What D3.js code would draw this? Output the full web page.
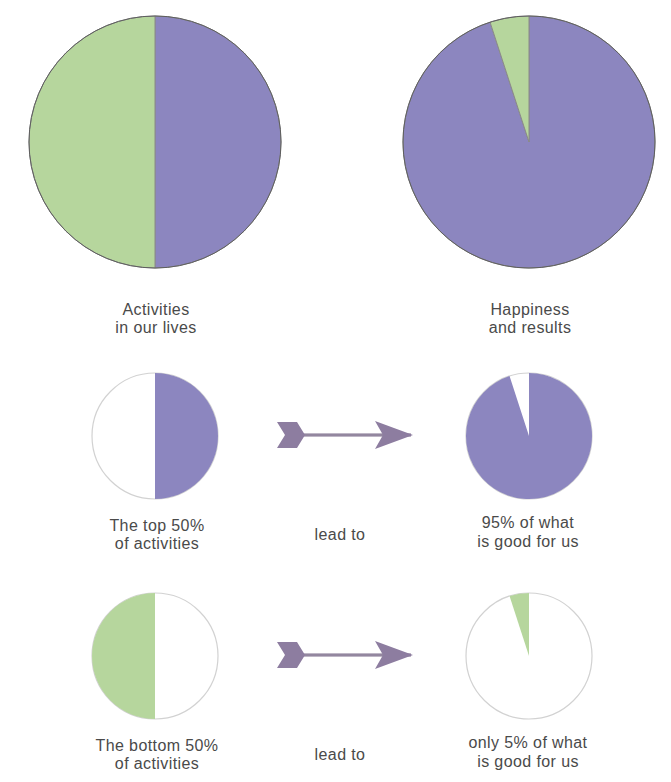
<!doctype html>
<html>
<head>
<meta charset="utf-8" />
<title>top 50% of activities</title>
<script src="https://cdn.jsdelivr.net/npm/d3@7"></script>
<style>
  body { margin: 0; background: #fff; }
  text { font-family: "Liberation Sans", Arial, sans-serif; font-size: 16px; letter-spacing: 0.4px; fill: #4a4a4a; }
</style>
</head>
<body>
<svg id="chart" width="671" height="782"></svg>
<script>
// share of activities vs. share of results, [top half, bottom half]
var groups = ['top', 'bottom'];
var activityShare = [50, 50];
var resultShare = [95, 5];

var topCaptions = [['Activities', 'in our lives'], ['Happiness', 'and results']];
var rowCaptions = [
    [['The top 50%', 'of activities'], ['lead to'], ['95% of what', 'is good for us']],
    [['The bottom 50%', 'of activities'], ['lead to'], ['only 5% of what', 'is good for us']]
];

var svg = d3.select('#chart');
var color = d3.scaleOrdinal().domain(groups).range(['#8c86bf', '#b6d69d']);

var pie = d3.pie().sort(null).value(function(d) { return d.value; });

function slices(values) {
    return pie(values.map(function(v, i) { return {key: groups[i], value: v}; }));
}

// big pies on top
function bigPie(cx, cy, values) {
    var arc = d3.arc().innerRadius(0).outerRadius(126);
    var g = svg.append('g').attr('transform', 'translate(' + cx + ',' + cy + ')');
    g.selectAll('path').data(slices(values)).enter().append('path')
        .attr('d', arc)
        .attr('fill', function(d) { return color(d.data.key); })
        .attr('stroke', '#8a8a8a')
        .attr('stroke-width', 1);
    g.append('circle').attr('r', 126).attr('fill', 'none').attr('stroke', '#5f5f5f').attr('stroke-width', 1);
}

// small pies: only one group coloured, other left white
function smallPie(cx, cy, values, keep) {
    var arc = d3.arc().innerRadius(0).outerRadius(63);
    var g = svg.append('g').attr('transform', 'translate(' + cx + ',' + cy + ')');
    g.append('circle').attr('r', 63).attr('fill', '#fff').attr('stroke', '#d2d2d2').attr('stroke-width', 1.2);
    g.selectAll('path').data(slices(values).filter(function(d) { return d.data.key === keep; }))
        .enter().append('path')
        .attr('d', arc)
        .attr('fill', function(d) { return color(d.data.key); });
}

function arrow(x, y) {
    var g = svg.append('g').attr('transform', 'translate(' + x + ',' + y + ')').attr('fill', '#8d7da0');
    g.append('rect').attr('x', 24).attr('y', -1.6).attr('width', 110).attr('height', 3.2).attr('fill', '#93879f');
    // tail feathers
    g.append('path').attr('d', 'M0,-13 L20,-13 L28,0 L20,13 L0,13 L8,0 Z');
    // head
    g.append('path').attr('d', 'M98,-14 L136,0 L98,14 L106,0 Z');
}

function caption(x, y, lines, gap) {
    var t = svg.append('text').attr('x', x).attr('y', y).attr('text-anchor', 'middle');
    lines.forEach(function(l, i) {
        t.append('tspan').attr('x', x).attr('dy', i === 0 ? 0 : (gap || 18)).text(l);
    });
}

bigPie(155, 142, activityShare);
bigPie(529, 142, resultShare);
caption(156, 315, topCaptions[0]);
caption(530, 315, topCaptions[1]);

var rowY = [436, 656];
rowY.forEach(function(cy, r) {
    smallPie(155, cy, activityShare, groups[r]);
    smallPie(529, cy, resultShare, groups[r]);
    arrow(277, cy - 1);
    var cap = rowCaptions[r];
    caption(157, cy + 95, cap[0]);
    caption(340, cy + 104, cap[1]);
    caption(528, cy + 92, cap[2], 19);
});
</script>
</body>
</html>
